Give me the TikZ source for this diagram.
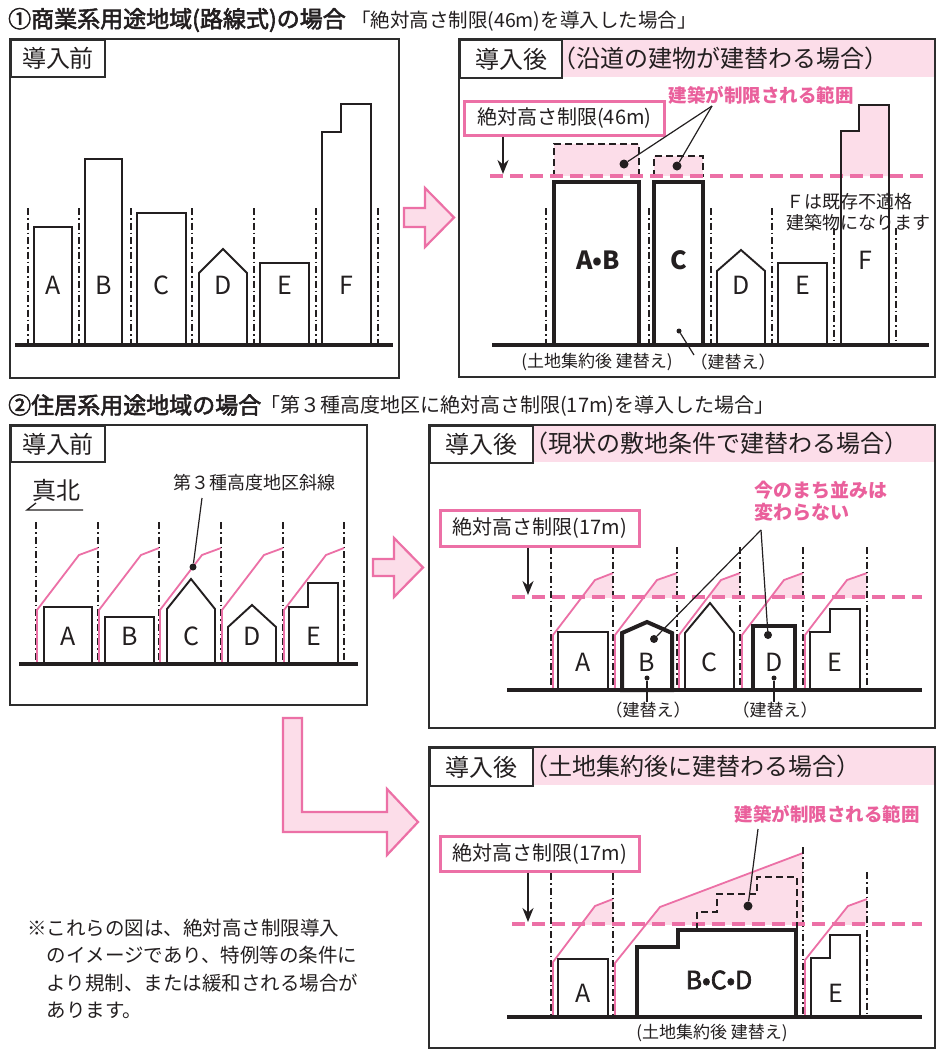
\documentclass[tikz,border=0pt]{standalone}
\usepackage{fontspec}
\setmainfont{Noto Sans CJK JP}
\newfontfamily\semibold{Noto Sans CJK JP}[FakeBold=2.5]
\usetikzlibrary{arrows.meta}
\definecolor{ink}{RGB}{35,31,32}
\definecolor{framegray}{RGB}{45,45,45}
\definecolor{pinkline}{RGB}{236,112,166}
\definecolor{pinktext}{RGB}{234,96,156}
\definecolor{pinkfill}{RGB}{252,221,233}
\newcommand\fsz[1]{\fontsize{#1}{#1}\selectfont}

\begin{document}
\begin{tikzpicture}[x=1pt,y=-1pt,line join=miter,
  every node/.style={text=ink},
  txt/.style={inner sep=0pt},
  frame/.style={draw=framegray,line width=2pt},
  tagbox/.style={draw=framegray,line width=2pt,fill=white,inner sep=0pt,anchor=north west,font=\fsz{24}},
  limbox/.style={draw=pinkline,line width=2.6pt,fill=white,inner sep=0pt,anchor=north west,font=\fsz{20}},
  bldg/.style={draw=ink,line width=1.9pt,fill=white},
  heavybldg/.style={draw=ink,line width=4pt,fill=white},
  groundline/.style={draw=ink,line width=3.6pt},
  lotline/.style={draw=ink,line width=1.2pt,dash pattern=on 7pt off 3pt on 1.5pt off 3pt},
  limitline/.style={draw=pinkline,line width=3.2pt,dash pattern=on 13pt off 7pt},
  slantline/.style={draw=pinkline,line width=1.8pt},
  rangeline/.style={draw=ink,line width=2pt,dash pattern=on 7pt off 4pt},
  pinkarrow/.style={draw=pinkline,fill=pinkfill,line width=2.2pt},
  lead/.style={draw=ink,line width=1.2pt},
  downarrow/.style={draw=ink,line width=2pt,-{Stealth[length=14pt,width=11pt]}},
  bigdot/.style={circle,fill=ink,inner sep=0pt,minimum size=9pt},
  smalldot/.style={circle,fill=ink,inner sep=0pt,minimum size=5pt},
  letter/.style={inner sep=0pt,font=\fsz{25}},
  boldletter/.style={inner sep=0pt,font=\bfseries\fsz{25}},
  pinklabel/.style={inner sep=0pt,text=pinktext,font=\bfseries\fsz{18.5}},
  smalltxt/.style={inner sep=0pt,font=\fsz{17}}
]
\useasboundingbox[fill=white] (0,0) rectangle (938,1050);

% ---------- titles ----------
\node[txt,anchor=west,font=\semibold\fsz{23}] (title1) at (8,20) {①商業系用途地域(路線式)の場合};
\node[txt,anchor=west,font=\fsz{19.5}] (sub1) at (351,21) {「絶対高さ制限(46m)を導入した場合」};
\node[txt,anchor=west,font=\semibold\fsz{23}] (title2) at (8,405) {②住居系用途地域の場合};
\node[txt,anchor=west,font=\fsz{20}] (sub2) at (260,406) {「第３種高度地区に絶対高さ制限(17m)を導入した場合」};

% ========== 1: commercial zone, before ==========
\draw[frame] (10,39) rectangle (399,378);
\node[tagbox,minimum width=94pt,minimum height=37pt] (tagA) at (10,39) {導入前};
\foreach \x in {28,79,131,192,254,316,378} \draw[lotline] (\x,208) -- (\x,345);
\draw[bldg] (34,345) rectangle (72,227);
\draw[bldg] (85,345) rectangle (122,159);
\draw[bldg] (137,345) rectangle (186,213);
\draw[bldg] (199,345) -- (199,273) -- (223,249) -- (247,273) -- (247,345);
\draw[bldg] (260,345) rectangle (309,263);
\draw[bldg] (322,345) -- (322,132) -- (341,132) -- (341,104) -- (371,104) -- (371,345);
\draw[groundline] (15,345) -- (393,345);
\node[letter] (a1) at (53,285) {A};
\node[letter] (b1) at (103.5,285) {B};
\node[letter] (c1) at (161.5,285) {C};
\node[letter] (d1) at (223,285) {D};
\node[letter] (e1) at (284.5,285) {E};
\node[letter] (f1) at (346.5,285) {F};

\draw[pinkarrow] (404,208) -- (425,208) -- (425,188) -- (454,217.5) -- (425,247) -- (425,227) -- (404,227) -- cycle;

% ========== 1: commercial zone, after ==========
\fill[pinkfill] (561,39) rectangle (935,77);
\draw[frame] (459,39) rectangle (935,377);
\node[tagbox,minimum width=102pt,minimum height=38pt] (tagB) at (459,39) {導入後};
\node[txt,anchor=west,font=\fsz{24}] (hdrB) at (552,58) {（沿道の建物が建替わる場合）};

\foreach \x in {546,649,711,772} \draw[lotline] (\x,208) -- (\x,345);
\foreach \x in {834,896} \draw[lotline] (\x,228) -- (\x,345);

% restricted volume above the limit
\fill[pinkfill] (554,144) rectangle (639,176);
\fill[pinkfill] (654,156) rectangle (703,176);
\fill[pinkfill] (841,176) -- (841,131) -- (859,131) -- (859,105) -- (889,105) -- (889,176) -- cycle;
\draw[rangeline] (554,177) -- (554,144) -- (639,144) -- (639,177);
\draw[rangeline] (654,177) -- (654,156) -- (703,156) -- (703,177);
\draw[limitline] (490,176) -- (930,176);

\draw[heavybldg] (554,345) rectangle (639,182);
\draw[heavybldg] (654,345) rectangle (703,182);
\draw[bldg] (717,345) -- (717,271) -- (741,250) -- (765,271) -- (765,345);
\draw[bldg] (778,345) rectangle (827,263);
\draw[bldg,fill=none] (841,345) -- (841,131) -- (859,131) -- (859,105) -- (889,105) -- (889,345);
\draw[groundline] (492,345) -- (929,345);

\node[boldletter] (ab2) at (598,260) {A•B};
\node[boldletter] (c2) at (678.5,260) {C};
\node[letter] (d2) at (741,285) {D};
\node[letter] (e2) at (802.5,285) {E};
\node[letter] (f2) at (865,260) {F};

\node[txt,anchor=west,font=\fsz{18},align=left] (fnote) at (786,212.5) {Ｆは既存不適格\\[3pt]建築物になります};

\node[limbox,minimum width=200pt,minimum height=34pt] (lim46) at (463,100) {絶対高さ制限(46m)};
\coordinate (tipB) at (503,174);
\draw[downarrow] (lim46.south -| tipB) -- (tipB);

\node[pinklabel] (rngB) at (761,95) {建築が制限される範囲};
\coordinate (rngBfoot) at (712,106);
\node[bigdot] (dotAB) at (624,164) {};
\node[bigdot] (dotC) at (677,166) {};
\draw[lead] (rngBfoot) -- (dotAB);
\draw[lead] (rngBfoot) -- (dotC);

\node[smalltxt] (lblAB) at (597,362) {(土地集約後 建替え)};
\node[smalltxt] (lblC) at (733,362) {（建替え）};
\node[smalldot] (dotC2) at (679,331) {};
\coordinate (lblCfoot) at (694,355);
\draw[lead] (dotC2) -- (lblCfoot);

% ========== 2: residential zone, before ==========
\draw[frame] (10,425) rectangle (367,705);
\node[tagbox,minimum width=94pt,minimum height=36pt] (tagC) at (10,425) {導入前};
\node[txt,font=\fsz{24}] (north) at (56,490) {真北};
\draw[line width=1.3pt,draw=ink] (83,510) -- (27,510) -- (36,503);

\foreach \x in {36,98,159,221,283,344} \draw[lotline] (\x,522) -- (\x,662);
\foreach \L/\N in {36/98,98/159,159/221,221/283,283/344}
  \draw[slantline] (\L+1,664) -- (\L+1,610) -- (\L+43,555) -- (\N,548);

\draw[bldg] (44,664) rectangle (92,607);
\draw[bldg] (105,664) rectangle (154,617);
\draw[bldg] (167,664) -- (167,609) -- (191,579) -- (215,609) -- (215,664);
\draw[bldg] (228,664) -- (228,627) -- (252,605) -- (276,627) -- (276,664);
\draw[bldg] (289,664) -- (289,607) -- (308,607) -- (308,583) -- (338,583) -- (338,664);
\draw[groundline] (19,664) -- (358,664);
\node[letter] (a3) at (68,636) {A};
\node[letter] (b3) at (129.5,636) {B};
\node[letter] (c3) at (191,636) {C};
\node[letter] (d3) at (252,636) {D};
\node[letter] (e3) at (313.5,636) {E};

\node[txt,font=\fsz{18}] (slopeC) at (254,483) {第３種高度地区斜線};
\coordinate (slopeCfoot) at (202,498);
\node[circle,fill=ink,inner sep=0pt,minimum size=7pt] (dotSlope) at (193,567) {};
\draw[lead] (slopeCfoot) -- (dotSlope);

\draw[pinkarrow] (373,559) -- (394,559) -- (394,538) -- (423,567.5) -- (394,597) -- (394,576) -- (373,576) -- cycle;

% ========== 2: after, current lots ==========
\fill[pinkfill] (532,425) rectangle (935,462);
\draw[frame] (429,425) rectangle (935,728);
\node[tagbox,minimum width=103pt,minimum height=37pt] (tagD) at (429,425) {導入後};
\node[txt,anchor=west,font=\fsz{24}] (hdrD) at (524,443.5) {（現状の敷地条件で建替わる場合）};

\foreach \L/\N in {551/613,613/677,677/740,740/803,803/867}{
  \begin{scope}
    \clip (\L,560) rectangle (\N,597);
    \fill[pinkfill] (\L+2,635) -- (\L+44,580) -- (\N,573) -- (\N,635) -- cycle;
  \end{scope}
  \draw[slantline] (\L+2,690) -- (\L+2,635) -- (\L+44,580) -- (\N,573);
}
\foreach \x in {551,613,677,740,803,867} \draw[lotline] (\x,547) -- (\x,688);
\draw[limitline] (512,597) -- (922,597);

\draw[bldg] (558,690) rectangle (608,632);
\draw[heavybldg] (622,690) -- (622,633) -- (647,622) -- (672,633) -- (672,690) -- cycle;
\draw[bldg] (685,690) -- (685,633) -- (710,603) -- (734,633) -- (734,690);
\draw[heavybldg] (753,690) rectangle (795,626);
\draw[bldg] (810,690) -- (810,632) -- (830,632) -- (830,609) -- (860,609) -- (860,690);
\draw[groundline] (507,690) -- (922,690);
\node[letter] (a4) at (583,662) {A};
\node[letter] (b4) at (647,662) {B};
\node[letter] (c4) at (709.5,662) {C};
\node[letter] (d4) at (774,662) {D};
\node[letter] (e4) at (835,662) {E};

\node[limbox,minimum width=199pt,minimum height=36pt] (lim17a) at (439,509) {絶対高さ制限(17m)};
\coordinate (tipD) at (528,595);
\draw[downarrow] (lim17a.south -| tipD) -- (tipD);

\node[pinklabel,anchor=west,align=left,font=\bfseries\fsz{19}] (keep) at (754,501.5) {今のまち並みは\\[3pt]変わらない};
\coordinate (keepfoot) at (761,530);
\node[bigdot,minimum size=8pt] (dotB4) at (654,639) {};
\node[bigdot,minimum size=8pt] (dotD4) at (768,635) {};
\draw[lead] (keepfoot) -- (dotB4);
\draw[lead] (keepfoot) -- (dotD4);

\node[smalltxt] (lblB4) at (648,710) {（建替え）};
\node[smalltxt] (lblD4) at (775,710) {（建替え）};
\node[smalldot] (dotB4b) at (647,678) {};
\node[smalldot] (dotD4b) at (774,678) {};
\draw[lead] (dotB4b) -- (lblB4.north -| dotB4b);
\draw[lead] (dotD4b) -- (lblD4.north -| dotD4b);

% ========== L-shaped arrow ==========
\draw[pinkarrow] (283,718) -- (302,718) -- (302,812) -- (387,812) -- (387,789) -- (418,822) -- (387,855) -- (387,832) -- (283,832) -- cycle;

% ========== 2: after, consolidated lots ==========
\fill[pinkfill] (532,747) rectangle (935,785);
\draw[frame] (429,747) rectangle (935,1048);
\node[tagbox,minimum width=103pt,minimum height=38pt] (tagE) at (429,747) {導入後};
\node[txt,anchor=west,font=\fsz{24}] (hdrE) at (524,766) {（土地集約後に建替わる場合）};

\foreach \L/\N in {551/613,805/867}{
  \begin{scope}
    \clip (\L,850) rectangle (\N,924);
    \fill[pinkfill] (\L+2,961) -- (\L+44,906) -- (\N,899) -- (\N,961) -- cycle;
  \end{scope}
}
\begin{scope}
  \clip (600,840) rectangle (803,924);
  \fill[pinkfill] (615,963) -- (660,907) -- (803,853) -- (803,963) -- cycle;
\end{scope}
\draw[slantline] (553,1017) -- (553,962) -- (595,906) -- (613,899);
\draw[slantline] (615,1017) -- (615,963) -- (660,907) -- (803,853);
\draw[slantline] (805,1017) -- (805,960) -- (848,906) -- (867,899);
\foreach \x in {551,613} \draw[lotline] (\x,873) -- (\x,1015);
\draw[lotline] (803,847) -- (803,1015);
\draw[lotline] (867,872) -- (867,1015);
\draw[limitline] (512,924) -- (922,924);

\draw[rangeline] (697,930) -- (697,912) -- (717,912) -- (717,894) -- (757,894) -- (757,877) -- (797,877) -- (797,930);
\draw[bldg] (558,1017) rectangle (608,959);
\draw[heavybldg] (637,1017) -- (637,947) -- (678,947) -- (678,930) -- (796,930) -- (796,1017) -- cycle;
\draw[bldg] (811,1017) -- (811,958) -- (830,958) -- (830,935) -- (860,935) -- (860,1017);
\draw[groundline] (507,1017) -- (922,1017);
\node[letter] (a5) at (583,993) {A};
\node[txt,font=\semibold\fsz{25}] (bcd5) at (719,980) {B•C•D};
\node[letter] (e5) at (835.5,993) {E};

\node[limbox,minimum width=199pt,minimum height=35pt] (lim17b) at (439,835) {絶対高さ制限(17m)};
\coordinate (tipE) at (528,922);
\draw[downarrow] (lim17b.south -| tipE) -- (tipE);

\node[pinklabel] (rngE) at (827,814) {建築が制限される範囲};
\coordinate (rngEfoot) at (758,829);
\node[bigdot] (dotE) at (748,906) {};
\draw[lead] (rngEfoot) -- (dotE);

\node[smalltxt] (lblBCD) at (712,1033) {(土地集約後 建替え)};

% ---------- note ----------
\node[txt,anchor=north west,align=left,font=\fsz{19.5}] (note) at (27,919)
  {※これらの図は、絶対高さ制限導入\\[7.8pt]
   \hspace*{19.5pt}のイメージであり、特例等の条件に\\[7.8pt]
   \hspace*{19.5pt}より規制、または緩和される場合が\\[7.8pt]
   \hspace*{19.5pt}あります。};
\end{tikzpicture}
\end{document}
